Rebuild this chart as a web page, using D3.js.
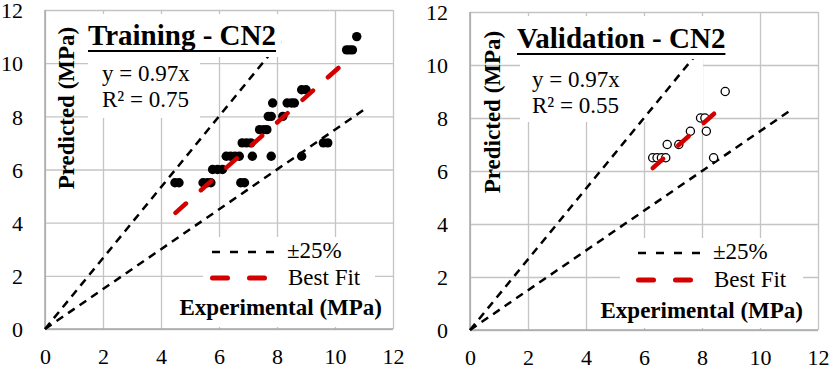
<!DOCTYPE html>
<head>
  <meta charset="utf-8">
  <script src="https://cdnjs.cloudflare.com/ajax/libs/d3/7.8.5/d3.min.js"></script>
  <style>
    body { margin: 0; background: #fff; }
    text { font-family: "Liberation Serif", "Times New Roman", serif; fill: #000; }
  </style>
</head>
<body>
<svg width="830" height="369"></svg>
<script>
// axis ticks (both panels)
var ticks = [0, 2, 4, 6, 8, 10, 12];

// Training - CN2 : experimental (x) vs predicted (y)
var trainX = [4.48, 4.62, 5.45, 5.6, 5.72, 6.75, 6.88,
              5.78, 5.95, 6.12,
              6.25, 6.4, 6.55, 6.7, 7.15, 7.8, 8.85,
              6.8, 6.95, 7.1, 9.6, 9.75,
              7.4, 7.55, 7.65,
              7.7, 7.8, 8.2,
              7.85, 8.35, 8.5, 8.6,
              8.85, 9.0,
              10.4, 10.5, 10.6, 10.75];
var trainY = [5.5, 5.5, 5.5, 5.5, 5.5, 5.5, 5.5,
              6.0, 6.0, 6.0,
              6.5, 6.5, 6.5, 6.5, 6.5, 6.5, 6.5,
              7.0, 7.0, 7.0, 7.0, 7.0,
              7.5, 7.5, 7.5,
              8.0, 8.0, 8.0,
              8.5, 8.5, 8.5, 8.5,
              9.0, 9.0,
              10.5, 10.5, 10.5, 11.0];

// Validation - CN2
var validX = [6.3, 6.45, 6.6, 6.75, 6.8, 7.2, 7.6, 7.95, 8.1, 8.15, 8.4, 8.8];
var validY = [6.5, 6.5, 6.5, 6.5, 7.0, 7.0, 7.5, 8.0, 8.0, 7.5, 6.5, 9.0];

// +-25% bounds and best fit (y = 0.97x) end points
var boundUpper = [[0, 0], [8.25, 11]];
var boundLower = [[0, 0], [11, 8.25]];
var fitTrain = [[4.5, 4.37], [10.5, 10.19]];
var fitValid = [[6.3, 6.11], [8.6, 8.34]];

var titles = ["Training - CN2", "Validation - CN2"];
var eqLines = [["y = 0.97x", "R\u00b2 = 0.75"], ["y = 0.97x", "R\u00b2 = 0.55"]];
var legendLabels = ["\u00b125%", "Best Fit"];

var svg = d3.select("svg");
var red = "#d40000";
var serif = "'Liberation Serif', 'Times New Roman', serif";

function panel(p) {
  var x = d3.scaleLinear().domain([0, 12]).range([p.left, p.right]);
  var y = d3.scaleLinear().domain([0, 12]).range([p.bottom, p.top]);
  var g = svg.append("g").style("font-family", serif);
  var w = p.right - p.left, h = p.bottom - p.top;

  // grid
  g.append("g")
      .attr("transform", "translate(0," + p.bottom + ")")
      .call(d3.axisBottom(x).tickValues(ticks).tickSize(-h).tickFormat(""))
      .call(function(a) { a.select(".domain").remove(); a.selectAll("line").attr("stroke", "#c4c4c4").attr("stroke-width", 1.3); });
  g.append("g")
      .attr("transform", "translate(" + p.left + ",0)")
      .call(d3.axisLeft(y).tickValues(ticks).tickSize(-w).tickFormat(""))
      .call(function(a) { a.select(".domain").remove(); a.selectAll("line").attr("stroke", "#c4c4c4").attr("stroke-width", 1.3); });
  g.append("line").attr("x1", p.left).attr("x2", p.right).attr("y1", p.bottom).attr("y2", p.bottom)
      .attr("stroke", "#a8a8a8").attr("stroke-width", 1.5);
  g.append("line").attr("x1", p.left).attr("x2", p.left).attr("y1", p.top).attr("y2", p.bottom)
      .attr("stroke", "#a8a8a8").attr("stroke-width", 1.5);

  // tick labels
  g.append("g")
      .attr("transform", "translate(0," + (p.bottom + 35) + ")")
      .call(d3.axisBottom(x).tickValues(ticks).tickSize(0).tickPadding(0))
      .call(function(a) {
        a.select(".domain").remove();
        a.attr("font-family", null);
        a.selectAll("text").attr("dy", 0).attr("font-size", 22).style("font-family", serif).attr("fill", "#000");
      });
  g.append("g")
      .attr("transform", "translate(" + (p.left - 22) + ",0)")
      .call(d3.axisLeft(y).tickValues(ticks).tickSize(0).tickPadding(0))
      .call(function(a) {
        a.select(".domain").remove();
        a.attr("font-family", null);
        a.selectAll("text").attr("dy", "0.35em").attr("font-size", 22).style("font-family", serif).attr("fill", "#000");
      });

  // white label boxes
  p.boxes.forEach(function(b) {
    g.append("rect").attr("x", b[0]).attr("y", b[1]).attr("width", b[2] - b[0]).attr("height", b[3] - b[1]).attr("fill", "#fff");
  });

  var line = d3.line().x(function(d) { return x(d[0]); }).y(function(d) { return y(d[1]); });
  [boundUpper, boundLower].forEach(function(b) {
    g.append("path").attr("d", line(b)).attr("fill", "none").attr("stroke", "#000")
        .attr("stroke-width", 2.5).attr("stroke-dasharray", "8,6");
  });

  var pts = d3.range(p.xs.length);
  g.selectAll(".pt").data(pts).enter().append("circle")
      .attr("cx", function(i) { return x(p.xs[i]); })
      .attr("cy", function(i) { return y(p.ys[i]); })
      .attr("r", p.filled ? 4.7 : 4.1)
      .attr("fill", p.filled ? "#000" : "#fff")
      .attr("stroke", "#000")
      .attr("stroke-width", p.filled ? 0 : 1.3);

  g.append("path").attr("d", line(p.fit)).attr("fill", "none").attr("stroke", red)
      .attr("stroke-width", 4.5).attr("stroke-linecap", "round").attr("stroke-dasharray", "14,20");

  // title
  g.append("rect").attr("x", p.tbox[0]).attr("y", p.tbox[1]).attr("width", p.tbox[2] - p.tbox[0]).attr("height", p.tbox[3] - p.tbox[1]).attr("fill", "#fff");
  var t = g.append("text").attr("x", p.tx).attr("y", p.ty).attr("font-size", 29).attr("font-weight", "bold").text(p.title);
  var tl = t.node().getComputedTextLength();
  g.append("line").attr("x1", p.tx).attr("x2", p.tx + tl).attr("y1", p.ty + 6).attr("y2", p.ty + 6)
      .attr("stroke", "#000").attr("stroke-width", 2);

  // equation
  p.eq.forEach(function(s, i) {
    g.append("text").attr("x", p.ex).attr("y", p.ey + i * 26).attr("font-size", 23).text(s);
  });

  // legend
  g.append("line").attr("x1", p.lx).attr("x2", p.lx + 63).attr("y1", p.ly).attr("y2", p.ly)
      .attr("stroke", "#000").attr("stroke-width", 2.5).attr("stroke-dasharray", "8,10");
  g.append("line").attr("x1", p.lx + 0.5).attr("x2", p.lx + 55).attr("y1", p.ly + 26 + p.dy).attr("y2", p.ly + 26 + p.dy)
      .attr("stroke", red).attr("stroke-width", 5).attr("stroke-linecap", "round").attr("stroke-dasharray", "15,22");
  g.append("text").attr("x", p.lx + 75).attr("y", p.ly + 6).attr("font-size", 23).text(legendLabels[0]);
  g.append("text").attr("x", p.lx + 76).attr("y", p.ly + 33 + p.dy).attr("font-size", 23).text(legendLabels[1]);

  // axis titles
  g.append("text").attr("x", p.xlx).attr("y", p.xly).attr("text-anchor", "end")
      .attr("font-size", 23).attr("font-weight", "bold").text("Experimental (MPa)");
  g.append("text").attr("transform", "translate(" + p.ylx + "," + p.yly + ") rotate(-90)")
      .attr("text-anchor", "middle").attr("font-size", 23).attr("font-weight", "bold").text("Predicted (MPa)");
}

panel({
  left: 45, right: 393, top: 10, bottom: 329,
  xs: trainX, ys: trainY, filled: true, fit: fitTrain,
  title: titles[0], tx: 88, ty: 45, tbox: [84, 14, 281, 57],
  eq: eqLines[0], ex: 102, ey: 81,
  lx: 212, ly: 252, dy: 0,
  xlx: 382, xly: 315, ylx: 74, yly: 108,
  boxes: [[88, 57, 200, 118], [203, 237, 375, 293], [165, 293, 388, 327]]
});
panel({
  left: 470, right: 818, top: 12, bottom: 330,
  xs: validX, ys: validY, filled: false, fit: fitValid,
  title: titles[1], tx: 517, ty: 48, tbox: [510, 16, 712, 59],
  eq: eqLines[1], ex: 532, ey: 87,
  lx: 638, ly: 253, dy: 1,
  xlx: 803, xly: 318, ylx: 500, yly: 112,
  boxes: [[520, 59, 703, 122], [620, 238, 803, 294], [590, 294, 808, 328]]
});
</script>
</body>
